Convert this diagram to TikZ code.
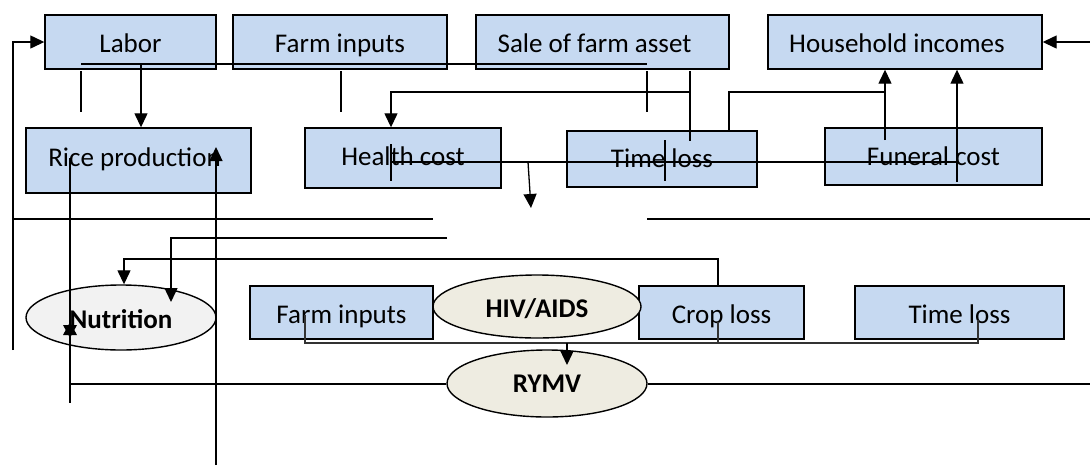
\documentclass[tikz,border=0pt]{standalone}
\usepackage{fontspec}
\setmainfont{Carlito}
\usetikzlibrary{arrows.meta,shapes.geometric}
\definecolor{boxblue}{HTML}{C6D9F1}
\definecolor{ovaltan}{HTML}{EEECE1}
\definecolor{ovalgrey}{HTML}{F2F2F2}

\begin{document}
\begin{tikzpicture}[x=1pt,y=-1pt,
  box/.style={draw=black, line width=1.4pt, fill=boxblue, inner sep=0pt,
              text depth=0pt, font=\fontsize{27}{32}\selectfont},
  oval/.style={ellipse, draw=black, line width=1.4pt, inner sep=0pt,
               text depth=0pt, font=\fontsize{27}{32}\selectfont\bfseries},
  link/.style={line width=1.3pt},
  arr/.style={link, -{Triangle[length=14pt,width=13pt]}},
]
\useasboundingbox (0,0) rectangle (1090,475);

% ---- top row of boxes
\node[box, minimum width=171pt, minimum height=54pt, text height=20pt] (labor) at (130.5,42) {Labor};
\node[box, minimum width=214pt, minimum height=54pt, text height=20pt] (farmT) at (340,42) {Farm inputs};
\node[box, minimum width=253pt, minimum height=54pt, text height=20pt] (sale) at (602.5,42) {Sale of farm asset\hspace{16pt}\mbox{}};
\node[box, minimum width=274pt, minimum height=54pt, text height=20pt] (house) at (905,42) {Household incomes\hspace{16pt}\mbox{}};

% ---- second row of boxes
\node[box, minimum width=225pt, minimum height=65pt, text height=11pt] (rice) at (138.5,160.5) {Rice production\hspace{8pt}\mbox{}};
\node[box, minimum width=196pt, minimum height=60pt, text height=14pt] (health) at (403,158) {Health cost};
\node[box, minimum width=190pt, minimum height=56pt, text height=16pt] (timeT) at (662,159) {Time loss};
\node[box, minimum width=217pt, minimum height=57pt, text height=17pt] (funeral) at (933.5,156.5) {Funeral cost};

% ---- lower row
\node[oval, fill=ovalgrey, minimum width=190pt, minimum height=65pt, text height=21pt] (nutr) at (121,317.5) {Nutrition};
\node[box, minimum width=183pt, minimum height=53pt, text height=21pt] (farmB) at (341.5,312.5) {Farm inputs};
\node[box, minimum width=165pt, minimum height=53pt, text height=21pt] (crop) at (721.5,312.5) {Crop loss};
\node[box, minimum width=209pt, minimum height=53pt, text height=21pt] (timeB) at (959.5,312.5) {Time loss};
\node[oval, fill=ovaltan, minimum width=208pt, minimum height=63pt, text height=21pt] (hiv) at (537,306.5) {HIV/AIDS};
\node[oval, fill=ovaltan, minimum width=200pt, minimum height=67pt, text height=17pt] (rymv) at (547,383.5) {RYMV};

% ---- free ends and junctions of the connectors
\coordinate (railL) at (13,350);
\coordinate (railE) at (1090,42);
\coordinate (barA) at (81,64);
\coordinate (barB) at (647,64);
\coordinate (labDrop) at (141,64);
\coordinate (saleDrop) at (690,71);
\coordinate (saleEnd) at (690,141);
\coordinate (saleJoin) at (690,92);
\coordinate (costA) at (391,162);
\coordinate (costB) at (957,162);
\coordinate (costDrop) at (528,162);
\coordinate (costTip) at (531,208);
\coordinate (incJoin) at (885,92);
\coordinate (funA) at (885,140);
\coordinate (funB) at (957,182);
\coordinate (nutTip) at (171,302);
\coordinate (nutBar) at (447,238);
\coordinate (cropTurn) at (718,259);
\coordinate (riceTop) at (70,158);
\coordinate (riceBot) at (70,403);
\coordinate (riceMid) at (70,384);
\coordinate (star) at (70,330);
\coordinate (rymvEnd) at (1090,384);
\coordinate (upFoot) at (216,465);
\coordinate (upTip) at (216,147);
\coordinate (inA) at (305,315);
\coordinate (inB) at (978,343);
\coordinate (inC) at (978,320);
\coordinate (cropTick) at (718,322);
\coordinate (cropBase) at (718,343);
\coordinate (hivDrop) at (567,343);

% ---- connectors
\draw[arr] (railL) |- (labor.west);
\draw[arr] (railE) -- (house.east);
\draw[link] (barA) -- (barB);
\draw[link] (81,71) -- (81,112);
\draw[link] (341,71) -- (341,112);
\draw[link] (647,71) -- (647,112);
\draw[arr] (labDrop) -- ([xshift=2.5pt]rice.north);
\draw[link] (saleDrop) -- (saleEnd);
\draw[arr] (saleJoin) -| ([xshift=-12pt]health.north);
\draw[link] (costA) -- (costB);
\draw[link] (391,144) -- (391,181);
\draw[link] (665,140) -- (665,181);
\draw[arr] (costDrop) -- (costTip);
\draw[link] ([xshift=67pt]timeT.north) |- (incJoin);
\draw[arr] (funA) -- ([xshift=-20pt]house.south);
\draw[arr] (funB) -- ([xshift=52pt]house.south);

% long horizontal rails
\draw[link] (13,219) -- (433,219);
\draw[link] (647,219) -- (1090,219);
\draw[arr] (nutBar) -| (nutTip);
\draw[arr] ([xshift=-3.5pt]crop.north) -- (cropTurn) -| ([xshift=3pt]nutr.north);

% rice production <-> nutrition: two opposed heads meet as a star
\draw[link] (riceTop) -- (riceBot);
\fill ([yshift=8pt]star) -- ([xshift=7pt,yshift=-5pt]star) -- ([xshift=-7pt,yshift=-5pt]star) -- cycle;
\fill ([yshift=-8pt]star) -- ([xshift=7pt,yshift=5pt]star) -- ([xshift=-7pt,yshift=5pt]star) -- cycle;
\draw[link] (riceMid) -- (rymv.west |- riceMid);
\draw[link] (rymv.east |- rymvEnd) -- (rymvEnd);
\draw[arr] (upFoot) -- (upTip);

% inputs, crop loss and time loss into RYMV
\draw[link, draw=black!80] (inA) |- (inB) -- (inC);
\draw[link, draw=black!80] (cropTick) -- (cropBase);
\draw[arr] (hivDrop) -- (567,365);
\end{tikzpicture}
\end{document}
